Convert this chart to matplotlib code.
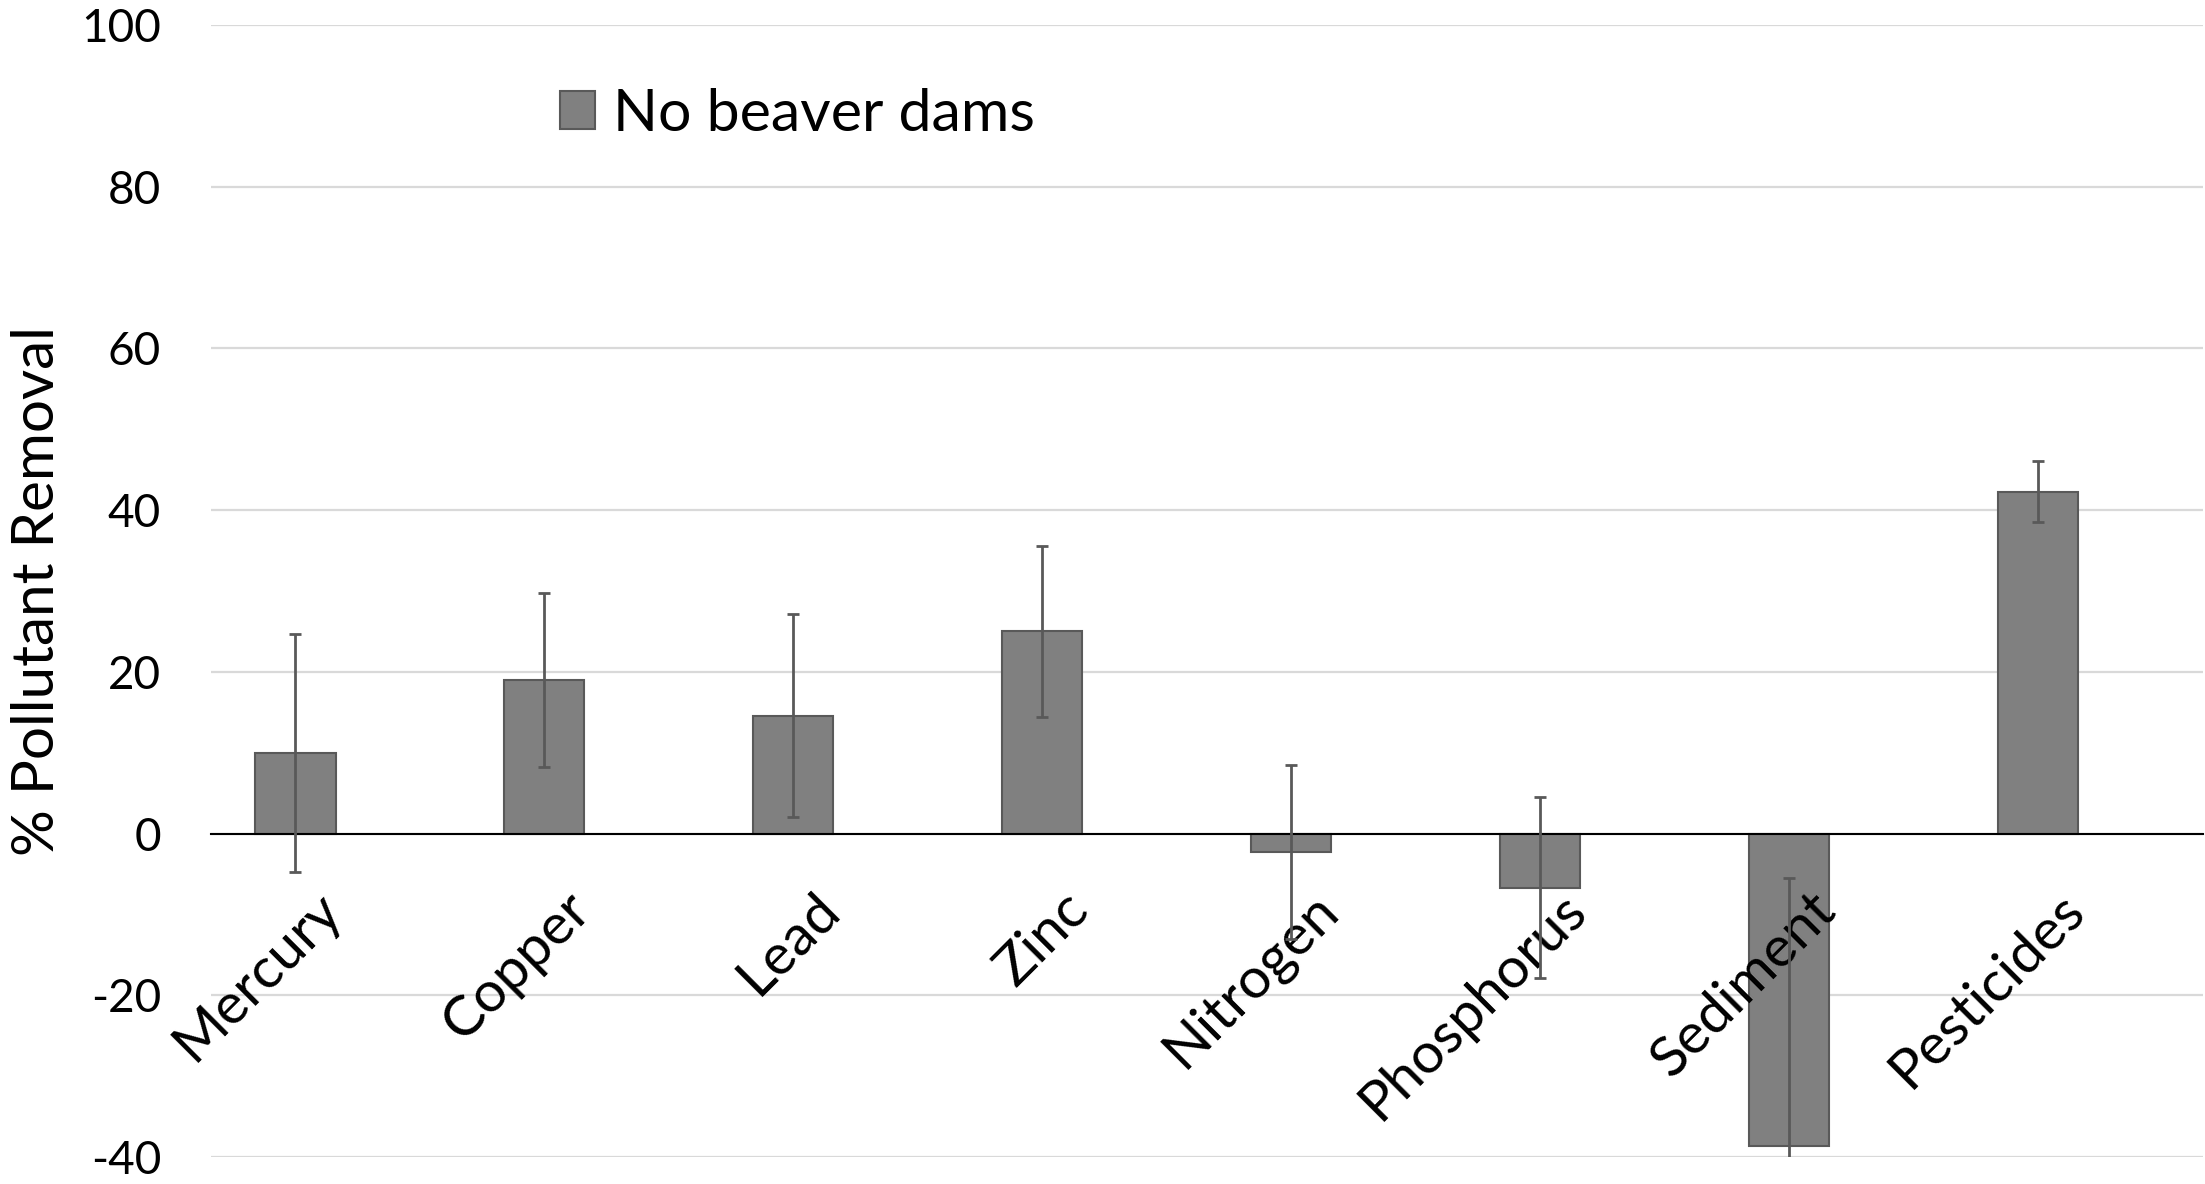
import matplotlib
matplotlib.use("Agg")
from matplotlib import pyplot as plt
from matplotlib.patches import Patch
from matplotlib.transforms import ScaledTranslation
import numpy as np

categories = ["Mercury", "Copper", "Lead", "Zinc", "Nitrogen", "Phosphorus", "Sediment", "Pesticides"]
removal = [10.0, 19.0, 14.6, 25.0, -2.3, -6.7, -38.7, 42.3]
errors = [14.7, 10.8, 12.5, 10.6, 10.8, 11.2, 33.2, 3.8]
yticks = [-40, -20, 0, 20, 40, 60, 80, 100]

plt.rcParams["font.family"] = ["Lato", "DejaVu Sans"]

fig = plt.figure(figsize=(22.05, 11.84), dpi=100)
ax = fig.add_axes([0.0957, 0.0228, 0.9033, 0.9561])

x = np.arange(len(categories))
# bars sit in the left half of each category (second series slot is empty)
pos = x - 0.161
ax.bar(pos, removal, width=0.322, color="#808080", edgecolor="#595959", linewidth=1.5, zorder=3)
# error bars go over the category names, bars go under them
ax.errorbar(pos, removal, yerr=errors, fmt="none", ecolor="#595959",
            elinewidth=2, capsize=4, capthick=2, zorder=7)

ax.set_xlim(-0.5, len(categories) - 0.5)
ax.set_ylim(-40, 100)
ax.set_yticks(yticks)
ax.set_yticklabels([str(v) for v in yticks], fontsize=33)
ax.tick_params(axis="y", length=0, pad=36)
ax.grid(axis="y", color="#d9d9d9", linewidth=1.6, zorder=0)

for s in ["top", "right", "left"]:
    ax.spines[s].set_visible(False)
ax.spines["bottom"].set_position(("data", 0))
ax.spines["bottom"].set_color("black")
ax.spines["bottom"].set_linewidth(1.5)
ax.spines["bottom"].set_zorder(5)

ax.set_xticks(x)
ax.set_xticklabels(categories, fontsize=41, rotation=45, ha="right", rotation_mode="anchor")
ax.tick_params(axis="x", length=0, pad=36)
shift = ScaledTranslation(-0.20, 0, fig.dpi_scale_trans)
for lbl in ax.get_xticklabels():
    lbl.set_transform(lbl.get_transform() + shift)
ax.xaxis.set_zorder(6)

ax.set_ylabel("% Pollutant Removal", fontsize=42)
ax.yaxis.set_label_coords(-0.074, 0.5)

handle = Patch(facecolor="#808080", edgecolor="#595959", linewidth=1.5)
ax.legend([handle], ["No beaver dams"], loc="center left", bbox_to_anchor=(0.254, 0.9033),
          bbox_transform=fig.transFigure, frameon=False, fontsize=42.5,
          handlelength=0.6, handleheight=0.6, handletextpad=0.3, borderaxespad=0, borderpad=0)

fig.savefig("out.png", dpi=100)
